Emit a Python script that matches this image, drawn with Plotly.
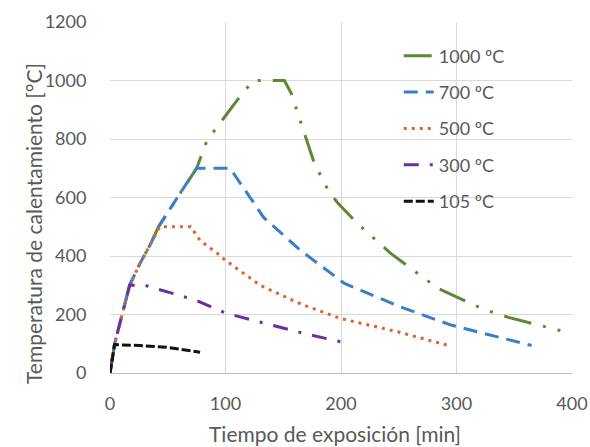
import plotly.graph_objects as go

# Data
t_1000 = [0, 4, 17, 26, 35, 42, 60, 75, 84, 101, 110, 124, 151, 157, 177, 189, 197, 214, 243, 284, 322, 345, 400]
T_1000 = [0, 100, 300, 375, 440, 500, 610, 700, 795, 887, 932, 1000, 1000, 955, 716, 624, 582, 512, 409, 289, 220, 190, 135]

t_700 = [0, 4, 17, 26, 35, 42, 60, 75, 104, 133, 165, 203, 252, 296, 365]
T_700 = [0, 100, 300, 375, 440, 500, 610, 700, 700, 532, 419, 306, 225, 163, 94]

t_500 = [0, 4, 17, 26, 35, 43, 70, 78, 93, 100, 130, 165, 200, 250, 293]
T_500 = [0, 100, 300, 375, 440, 500, 500, 453, 409, 385, 300, 236, 186, 140, 94]

t_300 = [0, 4, 17, 30, 75, 100, 165, 207]
T_300 = [0, 100, 300, 300, 248, 205, 138, 100]

t_105 = [0, 4, 26, 49, 78]
T_105 = [0, 97, 94, 88, 71]

x_ticks = [0, 100, 200, 300, 400]
y_ticks = [0, 200, 400, 600, 800, 1000, 1200]

names = ["1000 ºC", "700 ºC", "500 ºC", "300 ºC", "105 ºC"]
colors = ["#5b8a33", "#3a7dc9", "#e0622a", "#6a2fa0", "#111111"]
dashes = ["28px,12px,3px,12px,3px,12px", "14px,8px", "3px,5px", "15px,11px,3px,11px", "9px,3px"]
series = [(t_1000, T_1000), (t_700, T_700), (t_500, T_500), (t_300, T_300), (t_105, T_105)]

fig = go.Figure()
for i, ((tx, ty), nm, c, d) in enumerate(zip(series, names, colors, dashes)):
    fig.add_trace(go.Scatter(x=tx, y=ty, mode="lines", name=nm, legendgroup=str(i),
                             line=dict(color=c, width=3, dash=d)))

font_family = "Lato, 'Open Sans', sans-serif"
grey = "#595959"
fig.update_layout(
    width=590, height=447,
    margin=dict(l=110, r=18, t=22, b=74),
    paper_bgcolor="white", plot_bgcolor="white",
    font=dict(family=font_family, size=18, color=grey),
    legend=dict(x=0.625, y=0.956, xanchor="left", yanchor="top",
                bgcolor="rgba(0,0,0,0)", tracegroupgap=10,
                font=dict(size=18, color=grey)),
    xaxis=dict(range=[0, 400], tickvals=x_ticks, showgrid=True, automargin=False,
               gridcolor="#d9d9d9", gridwidth=1, zeroline=False,
               showline=True, linecolor="#bfbfbf", linewidth=1,
               ticks="outside", ticklen=14, tickcolor="rgba(0,0,0,0)",
               tickfont=dict(size=18, color=grey)),
    yaxis=dict(range=[0, 1200], tickvals=y_ticks, showgrid=True, automargin=False,
               gridcolor="#d9d9d9", gridwidth=1, zeroline=False,
               showline=False, ticks="outside", ticklen=19, tickcolor="rgba(0,0,0,0)",
               tickfont=dict(size=18, color=grey)),
    annotations=[
        dict(text="Tiempo de exposición [min]", xref="paper", yref="paper",
             x=(335 - 110) / 462, y=-(433 - 373) / 351, xanchor="center", yanchor="middle",
             showarrow=False, font=dict(size=21, color=grey)),
        dict(text="Temperatura de calentamiento [°C]", xref="paper", yref="paper",
             x=-(110 - 33) / 462, y=(373 - 224) / 351, xanchor="center", yanchor="middle",
             textangle=-90, showarrow=False, font=dict(size=21, color=grey)),
    ],
)
fig.write_html("out.html")
